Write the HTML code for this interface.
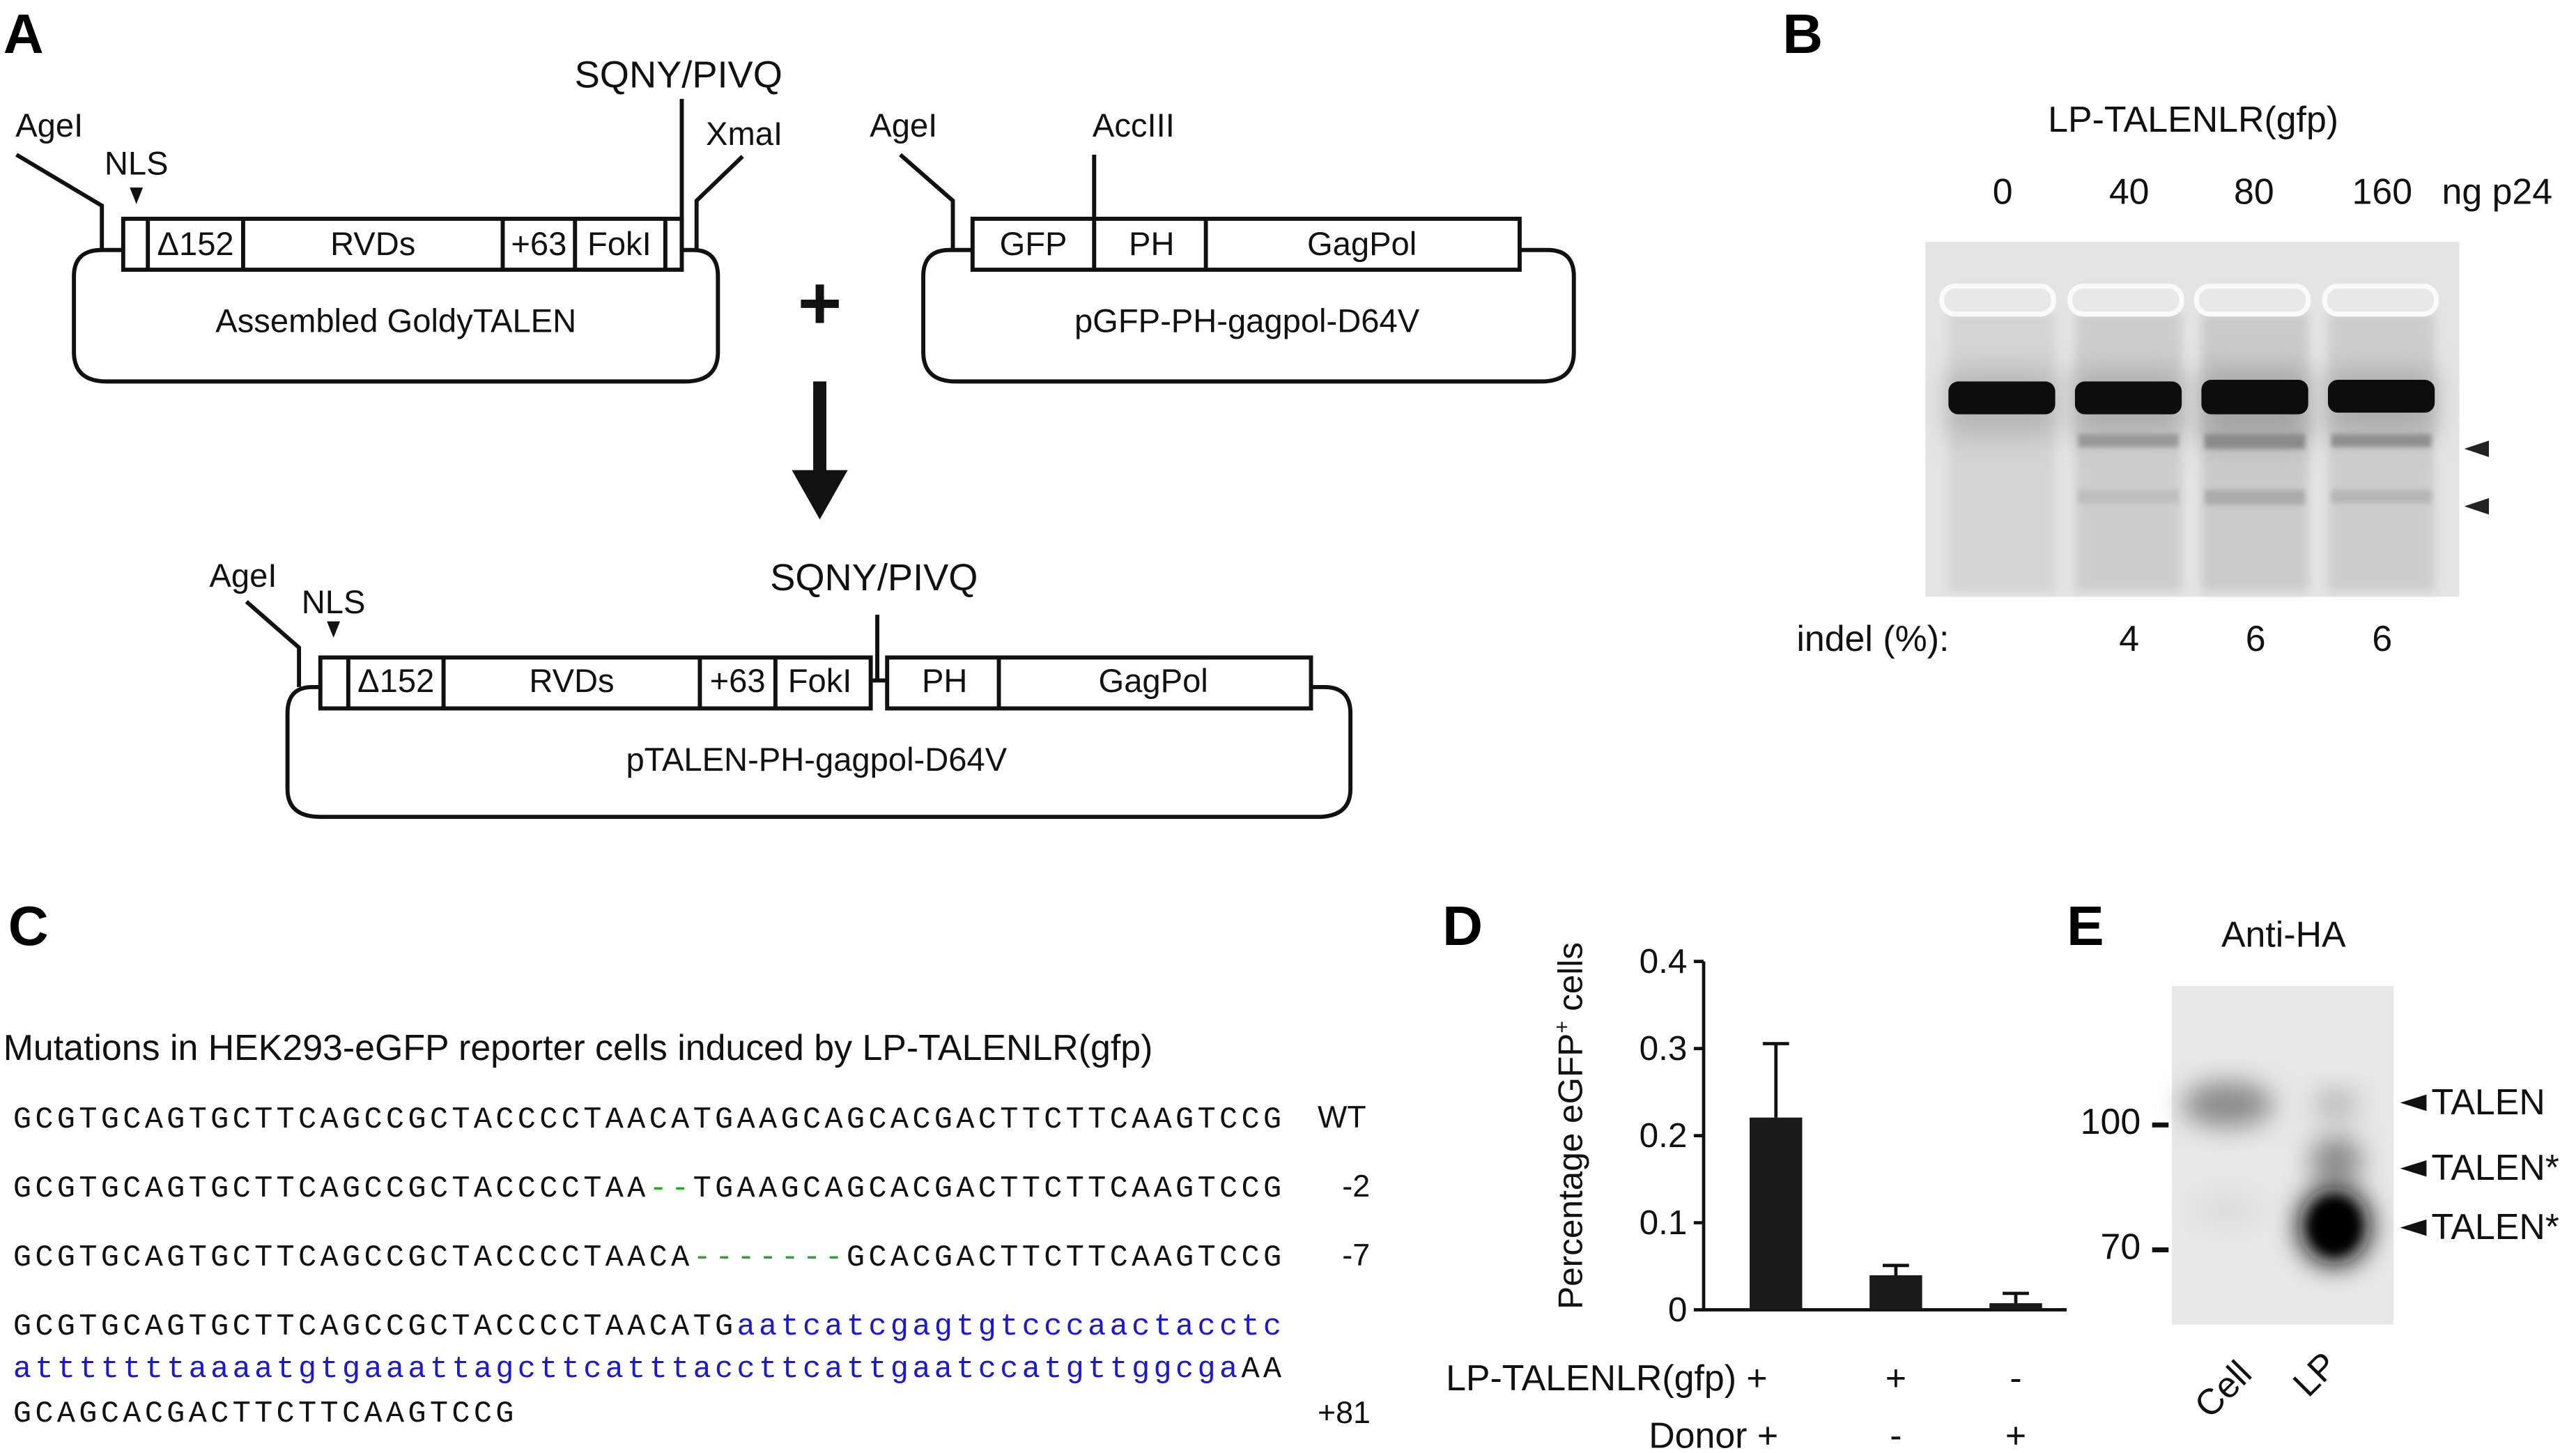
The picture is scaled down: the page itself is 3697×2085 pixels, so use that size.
<!DOCTYPE html>
<html><head><meta charset="utf-8"><style>html,body{margin:0;padding:0;background:#fff}svg{display:block}</style></head>
<body>
<svg width="3697" height="2085" viewBox="0 0 1568 884" xmlns="http://www.w3.org/2000/svg" font-family="Liberation Sans, Arial, sans-serif">
<defs>
<filter id="b1" x="-50%" y="-50%" width="200%" height="200%"><feGaussianBlur stdDeviation="3"/></filter>
<filter id="b2" x="-50%" y="-50%" width="200%" height="200%"><feGaussianBlur stdDeviation="8"/></filter>
<filter id="b3" x="-50%" y="-50%" width="200%" height="200%"><feGaussianBlur stdDeviation="1.5"/></filter>
</defs>
<rect width="1568" height="884" fill="#fff"/>
<g font-weight="bold" font-size="34">
<text x="2" y="32">A</text><text x="1085" y="32">B</text><text x="5" y="575">C</text><text x="878" y="575">D</text><text x="1258" y="575">E</text>
</g>
<g fill="none" stroke="#111" stroke-width="2.5">
<path d="M75 152 H62 Q45 152 45 168 V214 Q45 232 65 232 H417 Q437 232 437 214 V168 Q437 152 422 152 H415"/>
<rect x="75" y="133" width="340" height="31" fill="#fff"/>
<path d="M90 133V164M148 133V164M306 133V164M350 133V164M405 133V164"/>
<path d="M10 94 L62 125 V152"/>
<path d="M415 60 V152"/>
<path d="M452 95 L424 122 V152"/>
<path d="M592 152 H578 Q562 152 562 168 V214 Q562 232 582 232 H938 Q958 232 958 214 V168 Q958 152 942 152 H925"/>
<rect x="592" y="133" width="333" height="31" fill="#fff"/>
<path d="M666 133V164M734 133V164"/>
<path d="M548 94 L580 122 V152"/>
<path d="M666 94 V133"/>
<path d="M195 418 H190 Q175 418 175 434 V480 Q175 497 195 497 H802 Q822 497 822 480 V434 Q822 418 806 418 H798"/>
<rect x="195" y="400" width="335" height="31" fill="#fff"/>
<path d="M212 400V431M270 400V431M426 400V431M472 400V431"/>
<rect x="540" y="400" width="258" height="31" fill="#fff"/>
<path d="M608 400V431"/>
<path d="M530 414 H540"/>
<path d="M534 374 V414"/>
<path d="M150 366 L182 394 V418"/>
</g>
<g fill="#111">
<polygon points="79,114 87,114 83,124"/>
<polygon points="199,378 207,378 203,388"/>
<rect x="495" y="232" width="8" height="56"/>
<polygon points="482,286 516,286 499,316"/>
</g>
<g font-size="20" fill="#111" text-anchor="middle">
<text x="30" y="83">AgeI</text><text x="83" y="106">NLS</text>
<text x="119" y="155">Δ152</text><text x="227" y="155">RVDs</text><text x="328" y="155">+63</text><text x="377" y="155">FokI</text>
<text x="241" y="202">Assembled GoldyTALEN</text>
<text x="453" y="88">XmaI</text>
<text x="550" y="83">AgeI</text><text x="690" y="83">AccIII</text>
<text x="629" y="155">GFP</text><text x="701" y="155">PH</text><text x="829" y="155">GagPol</text>
<text x="759" y="202">pGFP-PH-gagpol-D64V</text>
<text x="148" y="357">AgeI</text><text x="203" y="373">NLS</text>
<text x="241" y="421">Δ152</text><text x="348" y="421">RVDs</text><text x="449" y="421">+63</text><text x="499" y="421">FokI</text>
<text x="575" y="421">PH</text><text x="702" y="421">GagPol</text>
<text x="497" y="469">pTALEN-PH-gagpol-D64V</text>
</g>
<g font-size="23" fill="#111" text-anchor="middle">
<text x="413" y="53">SQNY/PIVQ</text><text x="532" y="359">SQNY/PIVQ</text>
</g>
<text x="499" y="200" font-size="46" font-weight="bold" text-anchor="middle" fill="#111">+</text>
<g font-size="22" fill="#111" text-anchor="middle">
<text x="1335" y="80">LP-TALENLR(gfp)</text>
<text x="1219" y="124">0</text><text x="1296" y="124">40</text><text x="1372" y="124">80</text><text x="1450" y="124">160</text><text x="1520" y="124">ng p24</text>
<text x="1140" y="396">indel (%):</text><text x="1296" y="396">4</text><text x="1373" y="396">6</text><text x="1450" y="396">6</text>
</g>
<rect x="1172" y="147" width="325" height="216" fill="#e4e4e4"/>
<g>
<rect x="1186" y="190" width="65" height="170" fill="#d4d4d4" filter="url(#b1)"/>
<rect x="1263" y="190" width="65" height="170" fill="#cdcdcd" filter="url(#b1)"/>
<rect x="1340" y="190" width="65" height="170" fill="#cacaca" filter="url(#b1)"/>
<rect x="1417" y="190" width="65" height="170" fill="#cdcdcd" filter="url(#b1)"/>
<rect x="1186" y="225" width="65" height="40" fill="#b5b5b5" filter="url(#b2)"/>
<rect x="1263" y="225" width="65" height="40" fill="#adadad" filter="url(#b2)"/>
<rect x="1340" y="225" width="65" height="45" fill="#a5a5a5" filter="url(#b2)"/>
<rect x="1417" y="225" width="65" height="40" fill="#adadad" filter="url(#b2)"/>
<rect x="1265" y="264" width="61" height="8" fill="#999" filter="url(#b3)"/>
<rect x="1342" y="264" width="61" height="9" fill="#8a8a8a" filter="url(#b3)"/>
<rect x="1419" y="264" width="61" height="8" fill="#909090" filter="url(#b3)"/>
<rect x="1265" y="298" width="61" height="8" fill="#bdbdbd" filter="url(#b3)"/>
<rect x="1342" y="298" width="61" height="9" fill="#acacac" filter="url(#b3)"/>
<rect x="1419" y="298" width="61" height="8" fill="#b6b6b6" filter="url(#b3)"/>
<g fill="#0d0d0d">
<rect x="1186" y="232" width="65" height="20" rx="6"/>
<rect x="1263" y="232" width="65" height="20" rx="6"/>
<rect x="1340" y="231" width="65" height="21" rx="6"/>
<rect x="1417" y="231" width="65" height="20" rx="6"/>
</g>
<g fill="#e8e8e8" stroke="#fafafa" stroke-width="3">
<rect x="1182" y="174" width="68" height="17" rx="8"/>
<rect x="1260" y="174" width="68" height="17" rx="8"/>
<rect x="1337" y="174" width="68" height="17" rx="8"/>
<rect x="1415" y="174" width="68" height="17" rx="8"/>
</g>
</g>
<g fill="#222"><polygon points="1500,273 1515,268 1515,278"/><polygon points="1500,308 1515,303 1515,313"/></g>
<text x="2" y="645" font-size="22" fill="#111">Mutations in HEK293-eGFP reporter cells induced by LP-TALENLR(gfp)</text>
<g font-family="Liberation Mono, monospace" font-size="18.5" letter-spacing="2.25" fill="#111">
<text x="8" y="686">GCGTGCAGTGCTTCAGCCGCTACCCCTAACATGAAGCAGCACGACTTCTTCAAGTCCG</text>
<text x="8" y="728">GCGTGCAGTGCTTCAGCCGCTACCCCTAA<tspan fill="#2a2">--</tspan>TGAAGCAGCACGACTTCTTCAAGTCCG</text>
<text x="8" y="770">GCGTGCAGTGCTTCAGCCGCTACCCCTAACA<tspan fill="#2a2">-------</tspan>GCACGACTTCTTCAAGTCCG</text>
<text x="8" y="812">GCGTGCAGTGCTTCAGCCGCTACCCCTAACATG<tspan fill="#1a1acc">aatcatcgagtgtcccaactacctc</tspan></text>
<text x="8" y="838"><tspan fill="#1a1acc">atttttttaaaatgtgaaattagcttcatttaccttcattgaatccatgttggcga</tspan>AA</text>
<text x="8" y="865">GCAGCACGACTTCTTCAAGTCCG</text>
</g>
<g font-size="19" fill="#111">
<text x="802" y="686">WT</text><text x="817" y="728">-2</text><text x="817" y="770">-7</text><text x="802" y="866">+81</text>
</g>
<g stroke="#111" stroke-width="2" fill="none">
<path d="M1037 585 V797 H1258"/>
<path d="M1031 585H1037M1031 638H1037M1031 691H1037M1031 744H1037M1031 797H1037"/>
<path d="M1081 680 V635 M1073 635 H1089"/>
<path d="M1154 776 V770 M1146 770 H1162"/>
<path d="M1227 793 V787 M1219 787 H1235"/>
</g>
<g fill="#1a1a1a">
<rect x="1065" y="680" width="32" height="117"/>
<rect x="1138" y="776" width="32" height="21"/>
<rect x="1211" y="793" width="32" height="4"/>
</g>
<g font-size="21" fill="#111" text-anchor="end">
<text x="1027" y="592">0.4</text><text x="1027" y="645">0.3</text><text x="1027" y="698">0.2</text><text x="1027" y="751">0.1</text><text x="1027" y="804">0</text>
</g>
<text transform="translate(963,685) rotate(-90)" font-size="21" fill="#111" text-anchor="middle">Percentage eGFP<tspan font-size="13" dy="-8">+</tspan><tspan dy="8"> cells</tspan></text>
<g font-size="22" fill="#111" text-anchor="middle">
<text x="978" y="846">LP-TALENLR(gfp) +</text><text x="1154" y="846">+</text><text x="1227" y="846">-</text>
<text x="1043" y="881">Donor +</text><text x="1154" y="881">-</text><text x="1227" y="881">+</text>
</g>
<text x="1390" y="576" font-size="22" fill="#111" text-anchor="middle">Anti-HA</text>
<rect x="1322" y="600" width="135" height="206" fill="#e8e8e8"/>
<g>
<ellipse cx="1356" cy="672" rx="28" ry="14" fill="#8a8a8a" filter="url(#b2)"/>
<ellipse cx="1356" cy="736" rx="22" ry="10" fill="#dcdcdc" filter="url(#b2)"/>
<ellipse cx="1422" cy="672" rx="14" ry="10" fill="#b8b8b8" filter="url(#b2)"/>
<ellipse cx="1422" cy="706" rx="16" ry="15" fill="#8a8a8a" filter="url(#b2)"/>
<ellipse cx="1421" cy="746" rx="22" ry="24" fill="#0a0a0a" filter="url(#b2)"/>
<ellipse cx="1421" cy="746" rx="15" ry="17" fill="#000" filter="url(#b1)"/>
</g>
<g font-size="22" fill="#111">
<text x="1303" y="690" text-anchor="end">100</text><text x="1303" y="766" text-anchor="end">70</text>
<text x="1480" y="678">TALEN</text><text x="1480" y="718">TALEN*</text><text x="1480" y="754">TALEN*</text>
</g>
<g fill="#111"><rect x="1310" y="683" width="10" height="3"/><rect x="1310" y="759" width="10" height="3"/>
<polygon points="1461,671 1477,666 1477,676"/><polygon points="1461,711 1477,706 1477,716"/><polygon points="1461,747 1477,742 1477,752"/></g>
<g font-size="22" fill="#111">
<text transform="translate(1345,864) rotate(-45)">Cell</text>
<text transform="translate(1405,851) rotate(-45)">LP</text>
</g>
</svg>
</body></html>
